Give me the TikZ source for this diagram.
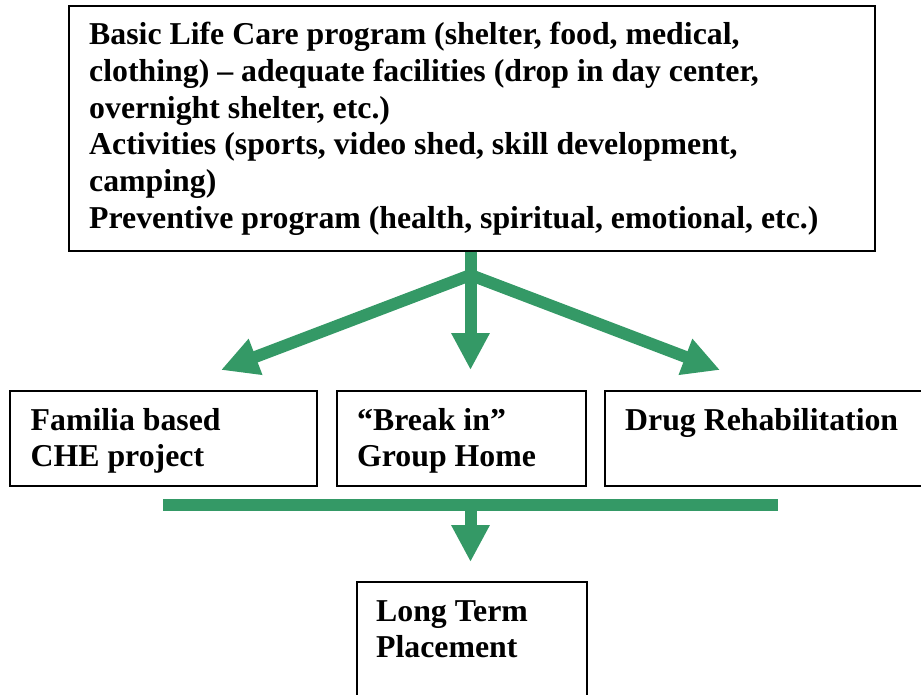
\documentclass[tikz,border=0pt]{standalone}
\usepackage{fontspec}
\setmainfont{Liberation Serif}
\usetikzlibrary{arrows.meta}
\definecolor{seagreen}{RGB}{52,153,102}
\tikzset{
  box/.style={draw=black, line width=1.6pt, anchor=north west, inner sep=0pt},
  txt/.style={anchor=base west, inner sep=0pt, align=left, font=\bfseries\fontsize{31.8}{36.8}\selectfont},
  garrow/.style={draw=seagreen, line width=12pt, -{Triangle[width=36pt,length=37pt]}},
  gbar/.style={draw=seagreen, line width=12pt}
}
\begin{document}
\begin{tikzpicture}[x=1pt,y=-1pt]
\useasboundingbox (0,0) rectangle (921,694);
\clip (0,0) rectangle (921,694);
% boxes
\node[box, minimum width=806pt, minimum height=245pt] (top) at (68,5) {};
\node[box, minimum width=307pt, minimum height=95pt] (b1) at (9,390) {};
\node[box, minimum width=249pt, minimum height=95pt] (b2) at (336,390) {};
\node[box, minimum width=330pt, minimum height=95pt] (b3) at (604,390) {};
\node[box, minimum width=230pt, minimum height=130pt] (b4) at (356,581) {};
% texts (anchor = baseline of the last line)
\node[txt] (ttop) at (89,228.5) {Basic Life Care program (shelter, food, medical,\\clothing) -- adequate facilities (drop in day center,\\overnight shelter, etc.)\\Activities (sports, video shed, skill development,\\camping)\\Preventive program (health, spiritual, emotional, etc.)};
\node[txt] (t1) at (30.5,466.8) {Familia based\\CHE project};
\node[txt] (t2) at (357,466.8) {``Break in''\\Group Home};
\node[txt] (t3) at (625,430) {Drug Rehabilitation};
\node[txt] (t4) at (376,657.8) {Long Term\\Placement};
% connectors
\coordinate (j) at (470.5,275);
\coordinate (tl) at (221,370);
\coordinate (tc) at (470.5,370);
\coordinate (tr) at (720,370);
\draw[gbar] (top.south -| j) -- (j);
\draw[garrow] (j) -- (tl);
\draw[garrow] (j) -- (tr);
\draw[garrow] (top.south -| j) -- (tc);
\coordinate (barL) at (163,505);
\coordinate (barR) at (778,505);
\coordinate (barM) at (470.5,505);
\draw[gbar] (barL) -- (barR);
\draw[garrow] (barM) -- ([yshift=19pt]b4.north -| barM);
\end{tikzpicture}
\end{document}
